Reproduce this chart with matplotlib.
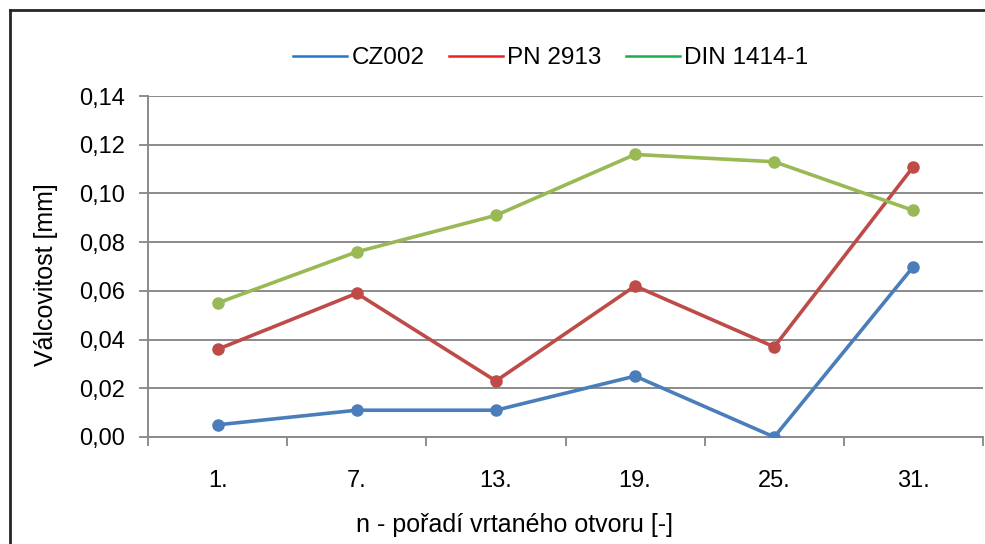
import matplotlib
matplotlib.use("Agg")
import matplotlib.pyplot as plt
from matplotlib.lines import Line2D
import numpy as np

plt.rcParams['font.family'] = ['Liberation Sans', 'DejaVu Sans']

# measured cylindricity per drilled hole
holes = ["1.", "7.", "13.", "19.", "25.", "31."]
cz002 = [0.005, 0.011, 0.011, 0.025, 0.000, 0.070]
pn2913 = [0.036, 0.059, 0.023, 0.062, 0.037, 0.111]
din1414 = [0.055, 0.076, 0.091, 0.116, 0.113, 0.093]

series_names = ["CZ002", "PN 2913", "DIN 1414-1"]
line_colors = ["#4a7ebb", "#be4b48", "#98b954"]
legend_colors = ["#1f78d0", "#ee2020", "#1aae4a"]

W, H = 985, 544
L, R, B, T = 148, 983, 437, 96
fig = plt.figure(figsize=(W / 100, H / 100), dpi=100)
ax = fig.add_axes([L / W, 1 - B / H, (R - L) / W, (B - T) / H])

x = np.arange(len(holes))
for vals, col in zip([cz002, pn2913, din1414], line_colors):
    ax.plot(x, vals, color=col, lw=2.6, marker="o", ms=8, zorder=3,
            solid_joinstyle="round")

ax.set_xlim(-0.5, len(holes) - 0.5)
ax.set_ylim(0, 0.14)
yt = np.arange(0, 0.141, 0.02)
ax.set_yticks(yt)
ax.set_yticklabels([f"{v:.2f}".replace(".", ",") for v in yt])
ax.set_xticks(x)
ax.set_xticklabels(holes)
ax.set_xticks(np.arange(-0.5, len(holes)), minor=True)
ax.tick_params(axis="x", which="major", length=0, pad=24, labelsize=17)
ax.tick_params(axis="x", which="minor", length=6.5, color="#868686", width=1.3)
ax.tick_params(axis="y", length=6.5, color="#868686", width=1.3, labelsize=17, pad=10)

ax.grid(axis="y", color="#8a8a8a", lw=1.4)
ax.set_axisbelow(True)
for s in ["top", "right"]:
    ax.spines[s].set_visible(False)
for s in ["left", "bottom"]:
    ax.spines[s].set_color("#8a8a8a")
    ax.spines[s].set_linewidth(1.4)

ax.set_ylabel("Válcovitost [mm]", fontsize=18)
ax.yaxis.set_label_coords((58 - L) / (R - L), (B - 275) / (B - T))
ax.set_xlabel("n - pořadí vrtaného otvoru [-]", fontsize=18)
ax.xaxis.set_label_coords((515 - L) / (R - L), -(513 - B) / (B - T))

handles = [Line2D([], [], color=c, lw=1.8) for c in legend_colors]
fig.legend(handles, series_names, loc="center", bbox_to_anchor=(551 / W, 1 - 58 / H),
           ncol=3, frameon=False, fontsize=17.5, handlelength=2.2, handletextpad=0.2,
           columnspacing=1.0)

# outer chart frame
fig.add_artist(Line2D([10 / W, 10 / W], [0, 1 - 10 / H], color="#262626", lw=2))
fig.add_artist(Line2D([10 / W, 1], [1 - 10 / H, 1 - 10 / H], color="#262626", lw=2))

fig.savefig("out.png", dpi=100)
